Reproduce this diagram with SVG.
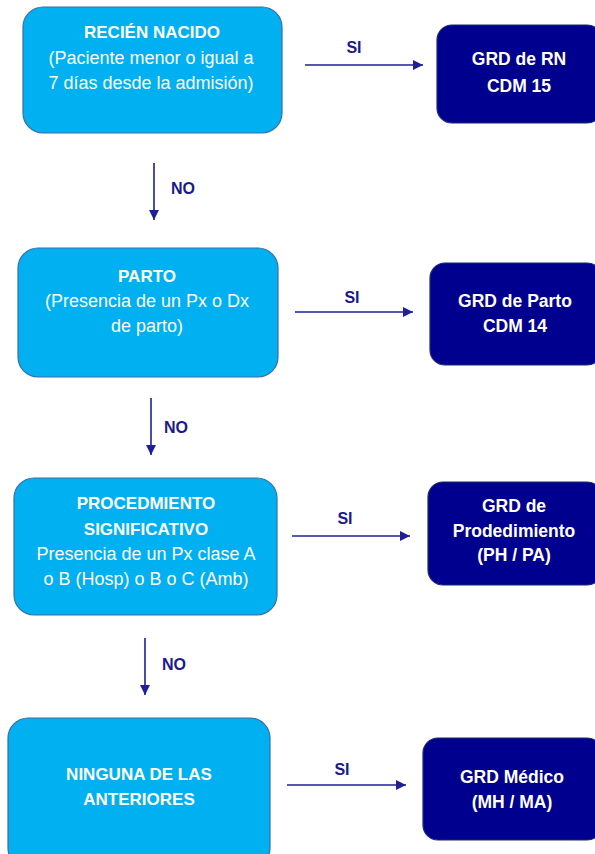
<svg xmlns="http://www.w3.org/2000/svg" width="595" height="854" viewBox="0 0 595 854">
<style>
.q{fill:#00B0F0;stroke:#3A6EA5;stroke-width:1.2}
.r{fill:#00008F;stroke:#1B2A6B;stroke-width:1.2}
text{font-family:"Liberation Sans",Arial,sans-serif;text-anchor:middle}
.tb{fill:#fff;font-weight:bold;font-size:17px}
.tr{fill:#fff;font-size:18px}
.rb{fill:#fff;font-weight:bold;font-size:17.5px}
.lb{fill:#1A1A8C;font-weight:bold;font-size:16px}
.c{stroke:#1F1F9A;stroke-width:1.6;fill:none;marker-end:url(#ah)}
</style>
<defs>
<marker id="ah" viewBox="0 0 10 10" refX="10" refY="5" markerUnits="userSpaceOnUse" markerWidth="11" markerHeight="10" orient="auto">
<path d="M0,0 L10,5 L0,10 z" fill="#1F1F9A"/>
</marker>
</defs>
<rect width="595" height="854" fill="#fff"/>
<g id="n1"><rect class="q" x="23" y="7" width="259" height="126" rx="20"/>
<text class="tb" x="152" y="38">RECIÉN NACIDO</text>
<text class="tr" x="151" y="64">(Paciente menor o igual a</text>
<text class="tr" x="151" y="89">7 días desde la admisión)</text></g>
<g id="r1"><rect class="r" x="437" y="25" width="165" height="98" rx="15"/>
<text class="rb" x="519" y="65">GRD de RN</text>
<text class="rb" x="519" y="92">CDM 15</text></g>
<g id="n2"><rect class="q" x="18" y="248" width="260" height="129" rx="20"/>
<text class="tb" x="147" y="282">PARTO</text>
<text class="tr" x="147" y="307">(Presencia de un Px o Dx</text>
<text class="tr" x="147" y="332">de parto)</text></g>
<g id="r2"><rect class="r" x="430" y="263" width="172" height="102" rx="15"/>
<text class="rb" x="515" y="307">GRD de Parto</text>
<text class="rb" x="515" y="332">CDM 14</text></g>
<g id="n3"><rect class="q" x="14" y="478" width="263" height="137" rx="20"/>
<text class="tb" x="146" y="509">PROCEDMIENTO</text>
<text class="tb" x="146" y="535">SIGNIFICATIVO</text>
<text class="tr" x="146" y="560">Presencia de un Px clase A</text>
<text class="tr" x="146" y="585">o B (Hosp) o B o C (Amb)</text></g>
<g id="r3"><rect class="r" x="428" y="482" width="174" height="103" rx="15"/>
<text class="rb" x="514" y="512">GRD de</text>
<text class="rb" x="514" y="537">Prodedimiento</text>
<text class="rb" x="514" y="561">(PH / PA)</text></g>
<g id="n4"><rect class="q" x="8" y="718" width="262" height="150" rx="20"/>
<text class="tb" x="139" y="780">NINGUNA DE LAS</text>
<text class="tb" x="139" y="805">ANTERIORES</text></g>
<g id="r4"><rect class="r" x="423" y="738" width="179" height="102" rx="15"/>
<text class="rb" x="512" y="783">GRD Médico</text>
<text class="rb" x="512" y="808">(MH / MA)</text></g>
<g id="connectors">
<line class="c" x1="305" y1="65" x2="423" y2="65"/>
<text class="lb" x="354" y="53">SI</text>
<line class="c" x1="154" y1="163" x2="154" y2="220"/>
<text class="lb" x="183" y="194">NO</text>
<line class="c" x1="295" y1="312" x2="413" y2="312"/>
<text class="lb" x="352" y="303">SI</text>
<line class="c" x1="151" y1="398" x2="151" y2="455"/>
<text class="lb" x="176" y="433">NO</text>
<line class="c" x1="292" y1="536" x2="410" y2="536"/>
<text class="lb" x="345" y="524">SI</text>
<line class="c" x1="145" y1="638" x2="145" y2="695"/>
<text class="lb" x="174" y="670">NO</text>
<line class="c" x1="287" y1="785" x2="406" y2="785"/>
<text class="lb" x="342" y="775">SI</text>
</g>
</svg>
